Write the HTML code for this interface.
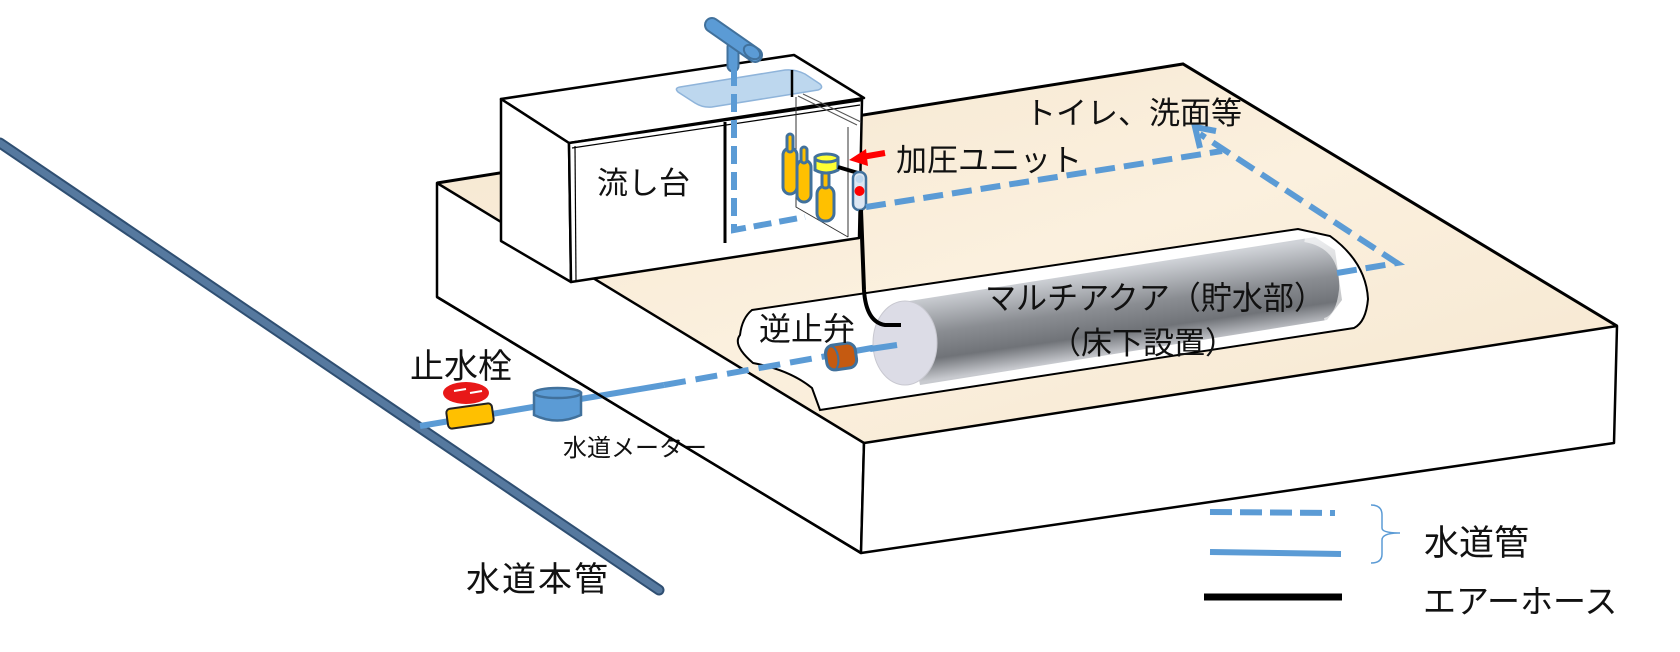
<!DOCTYPE html>
<html><head><meta charset="utf-8"><style>
html,body{margin:0;padding:0;background:#fff}
svg{display:block}
text{font-family:"Liberation Sans","Noto Sans CJK JP",sans-serif;fill:#111}
</style></head><body>
<svg width="1680" height="652" viewBox="0 0 1680 652" xmlns="http://www.w3.org/2000/svg">
<defs>
<linearGradient id="beige" x1="0" y1="0" x2="1" y2="1">
<stop offset="0" stop-color="#f5e6cf"/><stop offset="0.5" stop-color="#fbf0de"/><stop offset="1" stop-color="#f6e7d0"/>
</linearGradient>
<linearGradient id="cyl" gradientUnits="userSpaceOnUse" x1="1100" y1="270" x2="1112" y2="355">
<stop offset="0" stop-color="#d0d3d8"/><stop offset="0.45" stop-color="#8a8d92"/><stop offset="0.75" stop-color="#707378"/><stop offset="1" stop-color="#c8cacf"/>
</linearGradient>
</defs>

<line x1="0" y1="143" x2="659" y2="590" stroke="#2f4f72" stroke-width="11" stroke-linecap="round"/>
<line x1="0" y1="143" x2="659" y2="590" stroke="#56799f" stroke-width="7" stroke-linecap="round"/>

<polygon points="437,183 1183,64 1617,326 864,443" fill="url(#beige)"/>
<polygon points="437,183 864,443 861,553 437,297" fill="#fff" stroke="#000" stroke-width="2.5" stroke-linejoin="round"/>
<polygon points="864,443 1617,326 1614,443 861,553" fill="#fff" stroke="#000" stroke-width="2.5" stroke-linejoin="round"/>
<polyline points="437,183 1183,64 1617,326" fill="none" stroke="#000" stroke-width="3"/>

<path d="M752,310 L1298,229 L1330,236 Q1366,262 1368,299 Q1366,322 1354,328 L820,410 L812,388 Q790,370 753,363 Q732,345 740,335 Q742,318 752,310 Z" fill="#fff" stroke="#000" stroke-width="2"/>

<polyline points="420,426 664,385" fill="none" stroke="#5b9bd5" stroke-width="6"/>
<line x1="664" y1="385" x2="900" y2="343" stroke="#5b9bd5" stroke-width="6" stroke-dasharray="22,10"/>

<polygon points="903,302 1315,237 1335,250 1342,300 1327,320 920,385" fill="url(#cyl)"/>
<path d="M1305,238 Q1345,245 1343,290 Q1340,318 1325,322" fill="none" stroke="#fff" stroke-width="8" opacity="0.6"/>
<ellipse cx="905" cy="343" rx="32" ry="42" fill="#dcdce6" stroke="#c8c8d0" stroke-width="1"/>
<line x1="870" y1="349" x2="897" y2="345" stroke="#5b9bd5" stroke-width="6"/>

<rect x="826" y="344" width="30" height="25" rx="8" fill="#c55a11" stroke="#41719c" stroke-width="3" transform="rotate(-8 841 356)"/>
<ellipse cx="832" cy="357" rx="6" ry="12" fill="none" stroke="#41719c" stroke-width="2" transform="rotate(-8 841 356)"/>

<rect x="447" y="406" width="46" height="20" rx="4" fill="#ffc000" stroke="#222" stroke-width="2" transform="rotate(-8 470 416)"/>
<ellipse cx="466" cy="393" rx="23" ry="11" fill="#e81818"/>
<line x1="454" y1="391" x2="466" y2="389" stroke="#fff" stroke-width="2"/>
<line x1="470" y1="393" x2="482" y2="391" stroke="#fff" stroke-width="2"/>

<path d="M534,393 L534,415 Q557,426 581,415 L581,393 Z" fill="#5b9bd5" stroke="#41719c" stroke-width="2.5"/>
<ellipse cx="557.5" cy="393" rx="23.5" ry="5" fill="#5b9bd5" stroke="#41719c" stroke-width="2.5"/>

<polygon points="501,99 794,55 864,98 569,143" fill="#fff" stroke="#000" stroke-width="2.5" stroke-linejoin="round"/>
<polygon points="501,99 569,143 571,282 501,241" fill="#fff" stroke="#000" stroke-width="2.5" stroke-linejoin="round"/>
<polygon points="569,143 862,100 859,238 571,282" fill="#fff" stroke="#000" stroke-width="2.5" stroke-linejoin="round"/>
<line x1="575" y1="146" x2="576" y2="281" stroke="#000" stroke-width="1.2"/>
<line x1="572" y1="148" x2="860" y2="105" stroke="#000" stroke-width="1.2"/>
<polyline points="796,97 796,207 848,237" fill="none" stroke="#333" stroke-width="1"/>
<line x1="848" y1="127" x2="848" y2="237" stroke="#333" stroke-width="1"/>
<line x1="798" y1="96" x2="857" y2="125" stroke="#555" stroke-width="1"/>
<line x1="803" y1="94" x2="861" y2="122" stroke="#555" stroke-width="1"/>
<path d="M680,87 L785,70 Q795,69 805,74 L820,84 Q824,88 818,90 L712,107 Q703,108 695,103 L678,92 Q674,88 680,87 Z" fill="#bdd7ee" stroke="#8fb4da" stroke-width="1.5"/>
<line x1="792" y1="70" x2="792" y2="97" stroke="#000" stroke-width="2.5"/>
<line x1="733" y1="47" x2="733" y2="66" stroke="#41719c" stroke-width="13" stroke-linecap="round"/>
<line x1="733" y1="47" x2="733" y2="66" stroke="#5b9bd5" stroke-width="9" stroke-linecap="round"/>
<line x1="712" y1="25" x2="755" y2="55" stroke="#41719c" stroke-width="16" stroke-linecap="round"/>
<line x1="712" y1="25" x2="755" y2="55" stroke="#5b9bd5" stroke-width="12" stroke-linecap="round"/>
<ellipse cx="752" cy="52" rx="9" ry="6" fill="#5b9bd5" stroke="#41719c" stroke-width="2" transform="rotate(35 752 52)"/>
<line x1="725" y1="122" x2="725" y2="243" stroke="#000" stroke-width="3"/>
<polyline points="734,68 734,230 805,217" fill="none" stroke="#5b9bd5" stroke-width="6" stroke-dasharray="18,8"/>
<g stroke="#41719c" stroke-width="3" fill="#ffc000">
<rect x="783" y="148" width="14" height="46" rx="7"/>
<rect x="787" y="134" width="6" height="18" rx="3"/>
<rect x="797" y="160" width="14" height="42" rx="7"/>
<rect x="801" y="147" width="6" height="16" rx="3"/>
<rect x="817" y="186" width="17" height="35" rx="8"/>
<rect x="822" y="172" width="7" height="16" rx="3"/>
<path d="M815,158 L815,170 Q826,176 838,170 L838,158 Z" fill="#ffff33"/>
<ellipse cx="826.5" cy="158" rx="11.5" ry="4" fill="#ffff33"/>
</g>
<line x1="838" y1="167" x2="858" y2="173" stroke="#000" stroke-width="4"/>
<rect x="853" y="172" width="13" height="38" rx="6" fill="#dce6f2" stroke="#41719c" stroke-width="2.5"/>
<circle cx="859.5" cy="179" r="4" fill="#bdd7ee"/>
<circle cx="859.5" cy="191" r="5" fill="#ff0000"/>
<line x1="885" y1="153" x2="862" y2="157" stroke="#ff0000" stroke-width="6"/>
<polygon points="849,160 866,149 868,166" fill="#ff0000"/>

<path d="M861,210 L864,290 Q866,322 885,325 L901,325" fill="none" stroke="#000" stroke-width="4"/>

<polyline points="866,207 1222,151" fill="none" stroke="#5b9bd5" stroke-width="6" stroke-dasharray="20,9"/>
<polyline points="1337,273 1397,263 1200,134" fill="none" stroke="#5b9bd5" stroke-width="6" stroke-dasharray="20,9"/>
<polyline points="1200,148 1195,127 1216,131" fill="none" stroke="#5b9bd5" stroke-width="6"/>

<text x="597" y="194" font-size="31">流し台</text>
<text x="896" y="171" font-size="31">加圧ユニット</text>
<text x="1025" y="124" font-size="31">トイレ、洗面等</text>
<text x="985" y="309" font-size="32" textLength="340" lengthAdjust="spacingAndGlyphs">マルチアクア（貯水部）</text>
<text x="1050" y="354" font-size="31">（床下設置）</text>
<text x="759" y="340" font-size="32">逆止弁</text>
<text x="410" y="378" font-size="34">止水栓</text>
<text x="563" y="456" font-size="24">水道メーター</text>
<text x="466" y="591" font-size="34" letter-spacing="2">水道本管</text>
<line x1="437" y1="297" x2="861" y2="553" stroke="#000" stroke-width="2.5"/>

<line x1="1210" y1="512" x2="1335" y2="513" stroke="#5b9bd5" stroke-width="6" stroke-dasharray="22,8"/>
<line x1="1210" y1="552" x2="1341" y2="554" stroke="#5b9bd5" stroke-width="6"/>
<line x1="1204" y1="597" x2="1342" y2="597" stroke="#000" stroke-width="7"/>
<path d="M1371,505 Q1382,505 1382,515 L1382,528 Q1382,533 1400,533 Q1382,533 1382,540 L1382,554 Q1382,563 1371,563" fill="none" stroke="#5b9bd5" stroke-width="1.5"/>
<text x="1424" y="555" font-size="35">水道管</text>
<text x="1423" y="613" font-size="33">エアーホース</text>
</svg>
</body></html>
